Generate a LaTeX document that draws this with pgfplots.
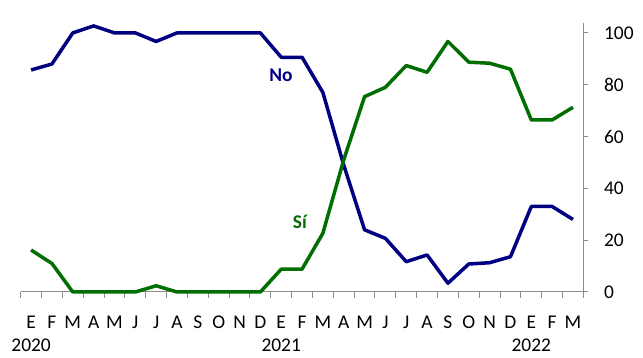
\documentclass[border=0pt]{standalone}
\usepackage{fontspec}
\setmainfont{Carlito}
\usepackage{pgfplots}
\pgfplotsset{compat=1.18}
\definecolor{noblue}{RGB}{0,0,128}
\definecolor{sigreen}{RGB}{0,110,0}
\definecolor{axgray}{RGB}{140,140,140}
\begin{document}
\fontsize{19.5}{23}\selectfont
\begin{tikzpicture}
\begin{axis}[
 scale only axis, width=562.6bp, height=269.4bp,
 xmin=-0.5, xmax=26.5, ymin=0, ymax=104,
 axis x line*=bottom, axis y line*=right,
 axis line style={draw=axgray, line width=1bp},
 xtick={0,...,26},
 xticklabels={E\\2020,F,M,A,M,J,J,A,S,O,N,D,E\\2021,F,M,A,M,J,J,A,S,O,N,D,E\\2022,F,M},
 xticklabel style={align=center, anchor=north, yshift=-12bp, font=\fontsize{19.5}{23}\selectfont},
 major x tick style={draw=none},
 minor xtick={-0.5,0.5,...,26.5},
 minor x tick style={draw=axgray, line width=1bp},
 tick align=outside,
 minor tick length=6bp,
 ytick={0,20,...,100},
 y tick style={draw=axgray, line width=1bp},
 major tick length=5bp,
 yticklabel style={xshift=9bp, font=\fontsize{19.5}{23}\selectfont},
 /pgf/number format/assume math mode=true,
 clip=false,
]
\path (axis cs:-1.493,-23.2) rectangle (axis cs:29.36,112.7);
\addplot[noblue, line width=3.5bp, line join=round] coordinates {
(0,85.7) (1,88) (2,100) (3,102.7) (4,100) (5,100) (6,96.7) (7,100) (8,100) (9,100) (10,100) (11,100)
(12,90.6) (13,90.6) (14,77) (15,49) (16,24) (17,20.7) (18,11.7) (19,14.3) (20,3.4) (21,10.8) (22,11.3) (23,13.6)
(24,33) (25,33) (26,28)
};
\addplot[sigreen, line width=3.5bp, line join=round] coordinates {
(0,16.2) (1,11) (2,0) (3,0) (4,0) (5,0) (6,2.4) (7,0) (8,0) (9,0) (10,0) (11,0)
(12,8.8) (13,8.8) (14,22.7) (15,51) (16,75.4) (17,79) (18,87.4) (19,84.8) (20,96.7) (21,88.7) (22,88.3) (23,86)
(24,66.4) (25,66.4) (26,71.3)
};
\node[noblue, font=\fontsize{19.5}{23}\selectfont\bfseries] at (axis cs:11.99,83.8) {No};
\node[sigreen, font=\fontsize{19.5}{23}\selectfont\bfseries] at (axis cs:12.9,27) {Sí};
\end{axis}
\end{tikzpicture}
\end{document}
